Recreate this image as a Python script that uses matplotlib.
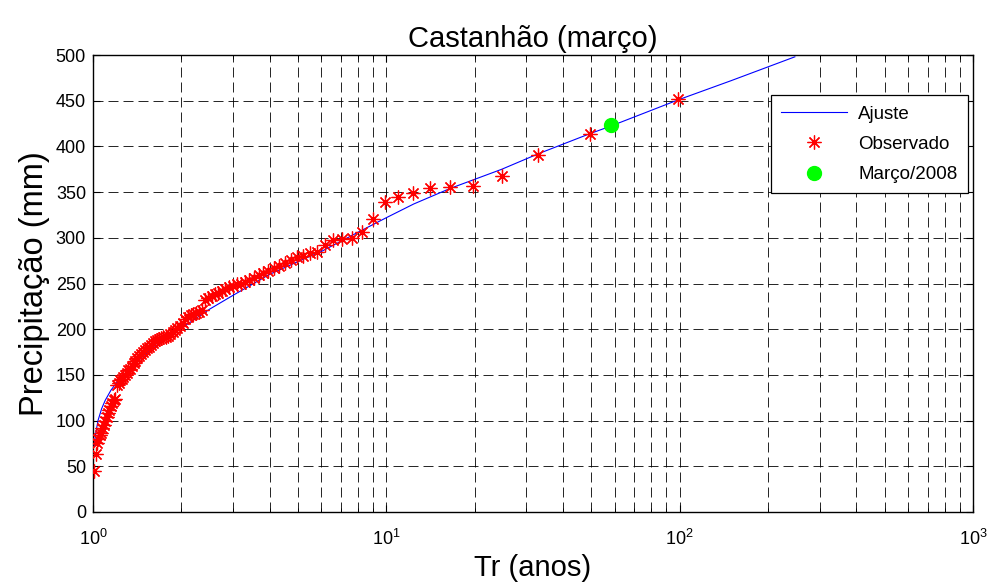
import numpy as np
import matplotlib
matplotlib.use("Agg")
import matplotlib.pyplot as plt
from matplotlib.ticker import LogLocator, MultipleLocator, NullFormatter

plt.rcParams['font.family'] = ['Liberation Sans', 'DejaVu Sans']
plt.rcParams['mathtext.default'] = 'regular'

# ---- data ----
n_obs = 98
# observed precipitation, sorted descending (rank m = 1..98), Tr = (n+1)/m
obs_precip = [452, 414, 391, 368, 357, 356, 354, 349, 345, 339,
              321, 306, 300, 299, 298, 292, 284, 283, 280, 279,
              276, 272, 269, 267, 264, 261, 259, 256, 254, 252,
              250, 249, 247, 246, 244, 242, 240, 238, 236, 234,
              232, 221, 219, 218, 217, 215, 213, 211, 207, 204,
              201, 199, 197, 195, 193, 192, 191, 190, 189, 188,
              187, 185, 183, 181, 179, 177, 175, 173, 171, 168,
              165, 163, 160, 157, 155, 152, 150, 148, 146, 144,
              141, 139, 124, 122, 119, 116, 112, 108, 104, 100,
              95, 92, 86, 84, 80, 75, 63, 45]
obs_rank = list(range(1, n_obs + 1))

fit_tr = [1.0102, 1.02, 1.04, 1.07, 1.1, 1.15, 1.2, 1.3, 1.5, 1.75, 2.0, 2.5,
          3.0, 4.0, 5.0, 6.0, 8.0, 10.0, 12.4, 16.5, 24.75, 33.0, 49.5, 58.0,
          99.0, 150.0, 247.0]
fit_precip = [72, 85, 100, 113, 122, 133, 141, 153, 172, 189, 201, 222,
              237, 260, 274, 285, 306, 322, 337, 354, 375, 392, 414, 422,
              451, 472, 498]

event_tr = [58.4]
event_precip = [423]

title = "Castanhão (março)"
xlabel = "Tr (anos)"
ylabel = "Precipitação (mm)"
legend_labels = ["Ajuste", "Observado", "Março/2008"]

obs_tr = [(n_obs + 1) / m for m in obs_rank]

# ---- figure ----
fig = plt.figure(figsize=(9.88, 5.82), dpi=100)
ax = fig.add_axes([93/988, 1 - 512/582, 880/988, 457/582])

ax.semilogx(fit_tr, fit_precip, color='blue', lw=0.8, label=legend_labels[0], zorder=3)
ax.semilogx(obs_tr, obs_precip, linestyle='none', marker=(8, 2, 0), markersize=10,
            color='red', markeredgewidth=0.9, label=legend_labels[1], zorder=4)
ax.semilogx(event_tr, event_precip, linestyle='none', marker='o', markersize=10,
            color=(0, 1, 0), markeredgecolor=(0, 1, 0), label=legend_labels[2], zorder=5)

ax.set_xlim(1, 1000)
ax.set_ylim(0, 500)
ax.yaxis.set_major_locator(MultipleLocator(50))
ax.xaxis.set_major_locator(LogLocator(base=10, numticks=10))
ax.xaxis.set_minor_locator(LogLocator(base=10, subs=np.arange(2, 10), numticks=20))
ax.xaxis.set_minor_formatter(NullFormatter())

dash = (0, (12, 6))
ax.grid(True, which='major', axis='both', color='black', linestyle=dash, lw=0.6)
ax.grid(True, which='minor', axis='x', color='black', linestyle=dash, lw=0.6)

ax.tick_params(which='both', direction='in', top=True, right=True, labelsize=13)
ax.tick_params(which='major', length=5, width=0.8)
ax.tick_params(which='minor', length=3, width=0.6)
ax.tick_params(axis='x', pad=12)
ax.tick_params(axis='y', pad=5)
for s in ax.spines.values():
    s.set_linewidth(1.0)

ax.set_title(title, fontsize=21, pad=6)
ax.set_xlabel(xlabel, fontsize=21, labelpad=4)
ax.set_ylabel(ylabel, fontsize=23.5, labelpad=4)

leg = ax.legend(loc='upper right', bbox_to_anchor=(0.994, 0.912), borderaxespad=0,
                fontsize=13.5, fancybox=False, framealpha=1, edgecolor='black',
                handlelength=3.5, handletextpad=0.6, labelspacing=0.7, borderpad=0.55)
leg.get_frame().set_linewidth(0.9)

fig.savefig("out.png", dpi=100)
